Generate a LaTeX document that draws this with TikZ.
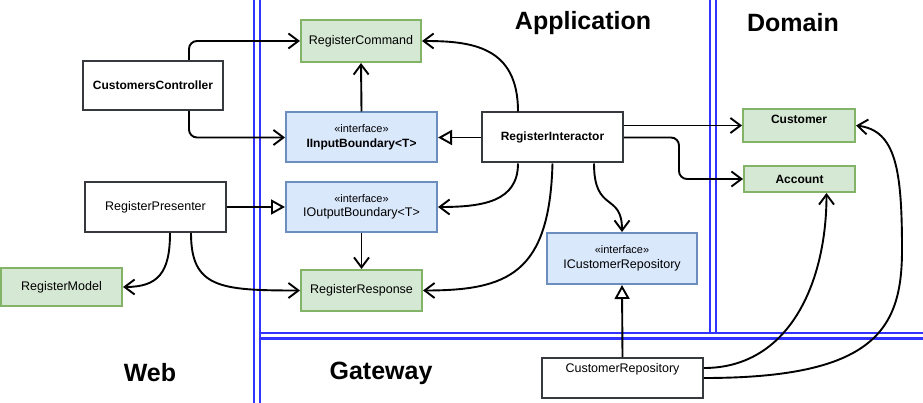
\documentclass[tikz,border=0pt]{standalone}
\usepackage{fontspec}
\setmainfont{Liberation Sans}
\usetikzlibrary{arrows.meta,calc}
\definecolor{gfill}{HTML}{D5E8D4}
\definecolor{gdraw}{HTML}{82B366}
\definecolor{bfill}{HTML}{DAE8FC}
\definecolor{bdraw}{HTML}{6C8EBF}
\definecolor{kdraw}{HTML}{36393D}
\definecolor{sep}{HTML}{3333FF}
\begin{document}
\begin{tikzpicture}[x=1pt,y=-1pt,
  box/.style={draw=kdraw,fill=white,line width=2pt,inner sep=0pt,align=center,font=\fontsize{12.5}{14.5}\selectfont},
  gbox/.style={box,draw=gdraw,fill=gfill},
  ibox/.style={box,draw=bdraw,fill=bfill},
  arr/.style={line width=1.9pt,-{Straight Barb[length=10pt,width=15pt,line width=1.9pt]}},
  inh/.style={line width=1.9pt,-{Triangle[length=14pt,width=15pt,fill=white,line width=1.9pt]}},
  sepline/.style={draw=sep,line width=2.6pt},
  layer/.style={font=\fontsize{25}{30}\selectfont\bfseries}]
\useasboundingbox (0,0) rectangle (923,403);
% separators
\draw[sepline] (254,0) -- (254,403);
\draw[sepline] (260,0) -- (260,403);
\draw[sepline] (710,0) -- (710,333);
\draw[sepline] (716,0) -- (716,333);
\draw[sepline] (260,333) -- (923,333);
\draw[sepline] (260,338.5) -- (923,338.5);
% layer labels
\node[layer] (lapp) at (583,23) {Application};
\node[layer] (ldom) at (793,23) {Domain};
\node[layer] (lweb) at (150,373) {Web};
\node[layer] (lgw) at (381,373) {Gateway};
% nodes
\node[box,minimum width=140pt,minimum height=49pt] (cc) at (153,85.5) {\fontsize{12}{14}\selectfont\bfseries CustomersController};
\node[gbox,minimum width=120pt,minimum height=42pt] (rc) at (361,41) {RegisterCommand};
\node[ibox,minimum width=151pt,minimum height=50pt] (ib) at (361.5,137.5) {{\fontsize{11}{13}\selectfont «interface»}\\\fontsize{12}{14}\selectfont\bfseries IInputBoundary<T>};
\node[box,minimum width=141pt,minimum height=50pt] (rp) at (155.5,207) {RegisterPresenter};
\node[ibox,minimum width=151pt,minimum height=50pt] (ob) at (361.5,207) {{\fontsize{11}{13}\selectfont «interface»}\\IOutputBoundary<T>};
\node[gbox,minimum width=121pt,minimum height=38pt] (rm) at (61.5,287) {RegisterModel};
\node[gbox,minimum width=121pt,minimum height=41pt] (rr) at (361.5,290.5) {RegisterResponse};
\node[box,minimum width=141pt,minimum height=50pt] (ri) at (552.5,137.5) {\fontsize{12}{14}\selectfont\bfseries RegisterInteractor};
\node[gbox,minimum width=112pt,minimum height=33pt,text depth=13pt] (cu) at (799,125.5) {\fontsize{12}{14}\selectfont\bfseries Customer};
\node[gbox,minimum width=111pt,minimum height=26pt] (ac) at (799.5,179) {\fontsize{12}{14}\selectfont\bfseries Account};
\node[ibox,minimum width=150pt,minimum height=51pt] (icr) at (622,258.5) {{\fontsize{11}{13}\selectfont «interface»}\\ICustomerRepository};
\node[box,minimum width=161pt,minimum height=40pt,text depth=20pt] (cr) at (622.5,378) {CustomerRepository};
% connectors
\draw[arr,rounded corners=8pt] ([xshift=36pt]cc.north) |- (rc.west);
\draw[arr,rounded corners=8pt] ([xshift=36pt]cc.south) |- (ib.west);
\draw[arr] (ib.north) -- (rc.south);
\draw[inh] (ri.west) -- (ib.east);
\draw[arr] ([xshift=-34.5pt]ri.north) .. controls +(0,-65) and +(50,0) .. (rc.east);
\draw[arr] ([xshift=-34.5pt]ri.south) .. controls +(0,38) and +(45,0) .. (ob.east);
\draw[arr] (ri.south) .. controls +(-3,110) and +(85,0) .. (rr.east);
\draw[arr] ([xshift=41.5pt]ri.south) .. controls +(0,50) and +(0,-40) .. (icr.north);
\draw[arr] (ri.east |- cu.west) -- (cu.west);
\draw[arr,rounded corners=8pt] (ri.east) -- ++(55,0) |- (ac.west);
\draw[inh] (rp.east) -- (ob.west);
\draw[arr] (ob.south) -- (rr.north);
\draw[arr] ([xshift=14.5pt]rp.south) .. controls +(0,40) and +(35,0) .. (rm.east);
\draw[arr] ([xshift=35.5pt]rp.south) .. controls +(0,55) and +(-80,0) .. (rr.west);
\draw[inh] (cr.north) -- (icr.south);
\draw[arr] ([yshift=10pt]cr.east) .. controls +(85,0) and +(0,90) .. ([xshift=27pt]ac.south);
\coordinate (w1) at (902,250);
\draw[arr] (cr.east) .. controls +(170,0) and +(0,80) .. (w1) .. controls +(0,-80) and +(40,5) .. (cu.east);
\end{tikzpicture}
\end{document}
